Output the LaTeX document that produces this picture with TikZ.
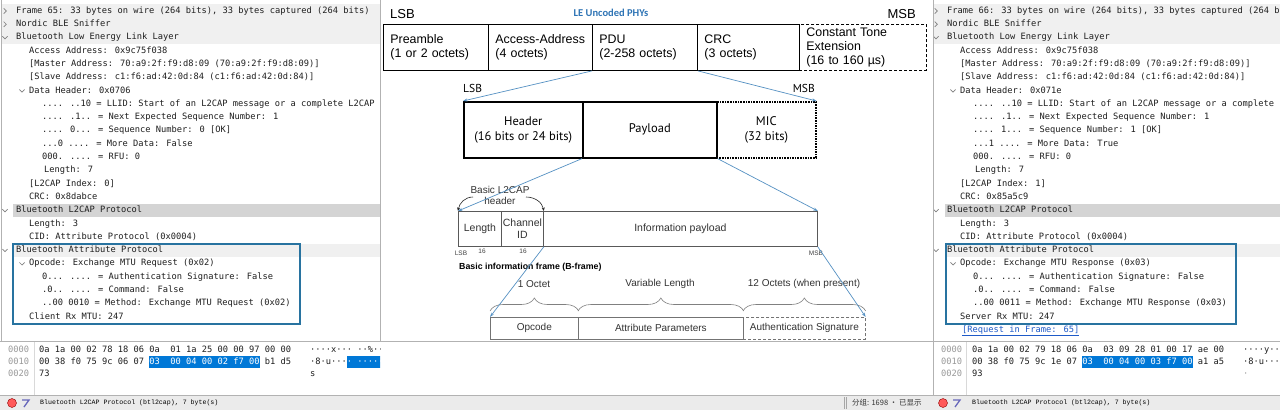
\documentclass[tikz,border=0pt]{standalone}
\usepackage{fontspec}
\usetikzlibrary{positioning,arrows.meta,decorations.pathreplacing}

\newfontfamily\monof{DejaVu Sans Mono}
\newfontfamily\arialf{Liberation Sans}
\newfontfamily\myriadf{PT Sans}
\newfontfamily\calibrif{Carlito}
\newfontfamily\statf{Liberation Mono}
\newfontfamily\cjkf{Noto Sans CJK SC}

\definecolor{selblue}{RGB}{0,120,215}
\definecolor{frameblue}{RGB}{40,115,160}
\definecolor{linkblue}{RGB}{85,145,195}
\definecolor{phyblue}{RGB}{46,116,181}
\definecolor{hlink}{RGB}{30,90,200}

\tikzset{
  tree/.style={anchor=west, inner sep=0pt, text height=6.4pt, text depth=1.9pt, font=\monof\fontsize{8.72}{10}\selectfont, text=black!88},
  offs/.style={tree, text=black!40},
  sel/.style={anchor=west, fill=selblue, inner sep=0pt, minimum height=11.5pt},
  panelbg/.style={fill=black!6},
  rowsel/.style={fill=black!17},
  attframe/.style={draw=frameblue, line width=1.1pt},
  chev/.style={draw=black!50, line width=0.7pt},
  collapsed/.pic={\draw[chev] (-1.3,-2.6) -- (1.3,0) -- (-1.3,2.6);},
  expanded/.pic={\draw[chev] (-2.6,-1.3) -- (0,1.3) -- (2.6,-1.3);},
  lsbtop/.style={anchor=west, inner sep=0pt, font=\arialf\fontsize{13}{15}\selectfont},
  topbox/.style={draw, line width=0.9pt, anchor=north west, minimum height=46pt, inner xsep=7pt, inner ysep=0pt, align=left, font=\arialf\fontsize{12.4}{14}\selectfont},
  lsbmid/.style={anchor=west, inner sep=0pt, font=\myriadf\fontsize{11.5}{13}\selectfont},
  midbox/.style={draw, line width=1.6pt, anchor=north west, minimum height=56pt, inner sep=0pt, align=center, font=\myriadf\fontsize{12.5}{15}\selectfont},
  l2cap/.style={draw=black!65, line width=0.8pt, anchor=north west, minimum height=35pt, inner sep=0pt, align=center, text=black!80, font=\arialf\fontsize{10.5}{11.5}\selectfont},
  tinylbl/.style={inner sep=0pt, text=black!75, font=\arialf\fontsize{6.5}{7}\selectfont},
  l2note/.style={inner sep=0pt, align=center, text=black!80, font=\arialf\fontsize{10}{11}\selectfont},
  bframe/.style={anchor=west, inner sep=0pt, font=\arialf\bfseries\fontsize{8.8}{10}\selectfont},
  attbox/.style={draw=black!55, line width=0.7pt, anchor=north west, minimum height=22pt, inner sep=0pt, text=black!80, font=\arialf\fontsize{10}{11}\selectfont},
  attnote/.style={inner sep=0pt, text=black!80, font=\arialf\fontsize{10}{11}\selectfont},
  brc/.style={draw=black!50, line width=0.6pt, decorate, decoration={brace, amplitude=13pt}},
  blueln/.style={draw=linkblue, line width=0.7pt, -{Stealth[length=4.5pt, width=3pt]}},
  hook/.style={draw=black!85, line width=0.6pt, -{Stealth[length=3.5pt, width=3pt]}},
  stat/.style={anchor=west, inner sep=0pt, font=\statf\fontsize{6.6}{8}\selectfont},
  rec/.style={circle, fill=red!65, draw=red!55!black, line width=0.4pt, minimum size=9pt, inner sep=0pt},
}

\begin{document}
\begin{tikzpicture}[x=1pt, y=-1pt]
\useasboundingbox (0,0) rectangle (1280,410);
\fill[white] (0,0) rectangle (1280,410);

\begin{scope}
\clip (0,0) rectangle (380,395);
\fill[panelbg] (2,4.3) rectangle (380,44.2);
\fill[rowsel] (13,203.9) rectangle (380,217.1);
\fill[panelbg] (13,243.8) rectangle (380,257);

\pic at (5,11) {collapsed};
\node[tree] (l0) at (16,11) {Frame 65: 33 bytes on wire (264 bits), 33 bytes captured (264 bits)};
\pic at (5,24.3) {collapsed};
\node[tree] (l1) at (16,24.3) {Nordic BLE Sniffer};
\pic at (5,37.6) {expanded};
\node[tree] (l2) at (16,37.6) {Bluetooth Low Energy Link Layer};
\node[tree] (l3) at (29,50.9) {Access Address: 0x9c75f038};
\node[tree] (l4) at (29,64.2) {[Master Address: 70:a9:2f:f9:d8:09 (70:a9:2f:f9:d8:09)]};
\node[tree] (l5) at (29,77.5) {[Slave Address: c1:f6:ad:42:0d:84 (c1:f6:ad:42:0d:84)]};
\pic at (22,90.8) {expanded};
\node[tree] (l6) at (29,90.8) {Data Header: 0x0706};
\node[tree] (l7) at (42,104.1) {.... ..10 = LLID: Start of an L2CAP message or a complete L2CAP message or no fragmentation};
\node[tree] (l8) at (42,117.4) {.... .1.. = Next Expected Sequence Number: 1};
\node[tree] (l9) at (42,130.7) {.... 0... = Sequence Number: 0 [OK]};
\node[tree] (l10) at (42,144) {...0 .... = More Data: False};
\node[tree] (l11) at (42,157.3) {000. .... = RFU: 0};
\node[tree] (l12) at (44,170.6) {Length: 7};
\node[tree] (l13) at (29,183.9) {[L2CAP Index: 0]};
\node[tree] (l14) at (29,197.2) {CRC: 0x8dabce};
\pic at (5,210.5) {expanded};
\node[tree] (l15) at (16,210.5) {Bluetooth L2CAP Protocol};
\node[tree] (l16) at (29,223.8) {Length: 3};
\node[tree] (l17) at (29,237.1) {CID: Attribute Protocol (0x0004)};
\pic at (5,250.4) {expanded};
\node[tree] (l18) at (16,250.4) {Bluetooth Attribute Protocol};
\pic at (22,263.7) {expanded};
\node[tree] (l19) at (29,263.7) {Opcode: Exchange MTU Request (0x02)};
\node[tree] (l20) at (42,277) {0... .... = Authentication Signature: False};
\node[tree] (l21) at (42,290.3) {.0.. .... = Command: False};
\node[tree] (l22) at (42,303.6) {..00 0010 = Method: Exchange MTU Request (0x02)};
\node[tree] (l23) at (29,316.9) {Client Rx MTU: 247};
\draw[attframe] (13,244) rectangle (300,324);

\node[sel, minimum width=111.5pt] (lsel) at (148.5,362) {};
\node[sel, minimum width=42pt] (lasel) at (346.5,362) {};
\node[offs] (lo0) at (8,350) {0000};
\node[offs] (lo1) at (8,362) {0010};
\node[offs] (lo2) at (8,374) {0020};
\node[tree] (lx0) at (39,350) {0a 1a 00 02 78 18 06 0a\ \ 01 1a 25 00 00 97 00 00};
\node[tree] (lx1) at (39,362) {00 38 f0 75 9c 06 07 \textcolor{white}{03\ \ 00 04 00 02 f7 00} b1 d5};
\node[tree] (lx2) at (39,374) {73};
\node[tree] (la0) at (310,350) {····x···\ ··\%·····};
\node[tree] (la1) at (310,362) {·8·u···\textcolor{white}{·\ ······}··};
\node[tree] (la2) at (310,374) {s};
\end{scope}

\begin{scope}
\clip (933,0) rectangle (1280,395);
\fill[panelbg] (934,4.3) rectangle (1280,44.2);
\fill[rowsel] (945,203.9) rectangle (1280,217.1);
\fill[panelbg] (945,243.8) rectangle (1280,257);

\pic at (936,11) {collapsed};
\node[tree] (r0) at (947,11) {Frame 66: 33 bytes on wire (264 bits), 33 bytes captured (264 bits)};
\pic at (936,24.3) {collapsed};
\node[tree] (r1) at (947,24.3) {Nordic BLE Sniffer};
\pic at (936,37.6) {expanded};
\node[tree] (r2) at (947,37.6) {Bluetooth Low Energy Link Layer};
\node[tree] (r3) at (960,50.9) {Access Address: 0x9c75f038};
\node[tree] (r4) at (960,64.2) {[Master Address: 70:a9:2f:f9:d8:09 (70:a9:2f:f9:d8:09)]};
\node[tree] (r5) at (960,77.5) {[Slave Address: c1:f6:ad:42:0d:84 (c1:f6:ad:42:0d:84)]};
\pic at (953,90.8) {expanded};
\node[tree] (r6) at (960,90.8) {Data Header: 0x071e};
\node[tree] (r7) at (973,104.1) {.... ..10 = LLID: Start of an L2CAP message or a complete L2CAP message or no fragmentation};
\node[tree] (r8) at (973,117.4) {.... .1.. = Next Expected Sequence Number: 1};
\node[tree] (r9) at (973,130.7) {.... 1... = Sequence Number: 1 [OK]};
\node[tree] (r10) at (973,144) {...1 .... = More Data: True};
\node[tree] (r11) at (973,157.3) {000. .... = RFU: 0};
\node[tree] (r12) at (975,170.6) {Length: 7};
\node[tree] (r13) at (960,183.9) {[L2CAP Index: 1]};
\node[tree] (r14) at (960,197.2) {CRC: 0x85a5c9};
\pic at (936,210.5) {expanded};
\node[tree] (r15) at (947,210.5) {Bluetooth L2CAP Protocol};
\node[tree] (r16) at (960,223.8) {Length: 3};
\node[tree] (r17) at (960,237.1) {CID: Attribute Protocol (0x0004)};
\pic at (936,250.4) {expanded};
\node[tree] (r18) at (947,250.4) {Bluetooth Attribute Protocol};
\pic at (953,263.7) {expanded};
\node[tree] (r19) at (960,263.7) {Opcode: Exchange MTU Response (0x03)};
\node[tree] (r20) at (973,277) {0... .... = Authentication Signature: False};
\node[tree] (r21) at (973,290.3) {.0.. .... = Command: False};
\node[tree] (r22) at (973,303.6) {..00 0011 = Method: Exchange MTU Response (0x03)};
\node[tree] (r23) at (960,316.9) {Server Rx MTU: 247};
\node[tree, text=hlink] (r24) at (962,330.2) {\underline{[Request in Frame: 65]}};
\draw[attframe] (946,244) rectangle (1236,324);

\node[sel, minimum width=111.5pt] (rsel) at (1081.5,362) {};
\node[sel, minimum width=42pt] (rasel) at (1279.5,362) {};
\node[offs] (ro0) at (941,350) {0000};
\node[offs] (ro1) at (941,362) {0010};
\node[offs] (ro2) at (941,374) {0020};
\node[tree] (rx0) at (972,350) {0a 1a 00 02 79 18 06 0a\ \ 03 09 28 01 00 17 ae 00};
\node[tree] (rx1) at (972,362) {00 38 f0 75 9c 1e 07 \textcolor{white}{03\ \ 00 04 00 03 f7 00} a1 a5};
\node[tree] (rx2) at (972,374) {93};
\node[tree] (ra0) at (1243,350) {····y···\ ··(·····};
\node[tree] (ra1) at (1243,362) {·8·u···\textcolor{white}{·\ ······}··};
\node[tree, text=black!40] (ra2) at (1243,374) {·};
\end{scope}

\draw[black!30] (1.5,0) -- (1.5,341);
\draw[black!30] (380,0) -- (380,341);
\draw[black!30] (933,0) -- (933,395);
\draw[black!30] (0,341) -- (1280,341);
\draw[black!15] (34,342) -- (34,395);
\draw[black!15] (966,342) -- (966,395);

\fill[black!8] (0,395) rectangle (1280,410);
\draw[black!30] (0,395) -- (1280,395);
\node[rec] (lrec) at (12,403) {};
\draw[line width=1.3pt, black!45!blue!60] (22,400) -- (29,400) -- (24,407);
\node[stat] (lstat) at (40,403) {Bluetooth L2CAP Protocol (btl2cap), 7 byte(s)};
\draw[black!35] (844,397) -- (844,409);
\draw[black!35] (846,397) -- (846,409);
\node[anchor=west, inner sep=0pt, font=\cjkf\fontsize{7.5}{9}\selectfont, text=black!80] (pkts) at (852,403) {分组: 1698 · 已显示};
\node[rec] (rrec) at (943,403) {};
\draw[line width=1.3pt, black!45!blue!60] (953,400) -- (960,400) -- (955,407);
\node[stat] (rstat) at (972,403) {Bluetooth L2CAP Protocol (btl2cap), 7 byte(s)};

\node[lsbtop] (lsb1) at (390,14) {LSB};
\node[inner sep=0pt, text=phyblue, font=\calibrif\bfseries\fontsize{10.5}{12}\selectfont] (phy) at (611,13) {LE Uncoded PHYs};
\node[lsbtop, anchor=east] (msb1) at (916,14) {MSB};
\node[topbox, text width=91pt] (pre) at (383,24) {Preamble\\(1 or 2 octets)};
\node[topbox, text width=90pt] (acc) at (488,24) {Access-Address\\(4 octets)};
\node[topbox, text width=91pt] (pdu) at (592,24) {PDU\\(2-258 octets)};
\node[topbox, text width=88pt] (crc) at (697,24) {CRC\\(3 octets)};
\node[topbox, text width=113pt, densely dashed] (cte) at (799,24) {Constant Tone\\Extension\\(16 to 160 µs)};

\node[lsbmid] (lsb2) at (463,88) {LSB};
\node[lsbmid, anchor=east] (msb2) at (815,88) {MSB};
\node[midbox, minimum width=119pt] (hdr) at (463,101) {Header\\(16 bits or 24 bits)};
\node[midbox, minimum width=134pt] (pay) at (582,101) {Payload};
\node[midbox, minimum width=99pt, densely dotted] (mic) at (716,101) {MIC\\(32 bits)};
\draw[blueln] (pdu.south west) -- (hdr.north west);
\draw[blueln] (pdu.south east) -- (mic.north east);

\node[l2note] (bhdr) at (500,195) {Basic L2CAP\\header};
\node[l2cap, minimum width=43pt] (len) at (458,211) {Length};
\node[l2cap, minimum width=42pt] (cid) at (501,211) {Channel\\ID};
\node[l2cap, minimum width=274pt] (info) at (543,211) {Information payload};
\coordinate (hka) at (473,197);
\coordinate (hkb) at (526,197);
\draw[hook] (hka) to[out=180, in=80] (len.north west);
\draw[hook] (hkb) to[out=0, in=100] (cid.north east);
\node[tinylbl] (lsb3) at (461,253) {LSB};
\node[tinylbl] (n16a) at (482,251) {16};
\node[tinylbl] (n16b) at (523,251) {16};
\node[tinylbl] (msb3) at (816,253) {MSB};
\node[bframe] (bfr) at (459,267) {Basic information frame (B-frame)};
\draw[blueln] (pay.south west) -- (len.north west);
\draw[blueln] (pay.south east) -- (info.north east);

\node[attnote] (oct1) at (534,284) {1 Octet};
\node[attnote] (varl) at (660,284) {Variable Length};
\node[attnote] (oct12) at (804,284) {12 Octets (when present)};
\node[attbox, minimum width=88pt] (op) at (490,317) {Opcode};
\node[attbox, minimum width=165pt] (apar) at (578,317) {Attribute Parameters};
\node[attbox, minimum width=122pt, densely dashed] (asig) at (743,317) {Authentication Signature};
\draw[brc] ([yshift=6pt]op.north west) -- ([yshift=6pt]op.north east);
\draw[brc] ([yshift=6pt]apar.north west) -- ([yshift=6pt]apar.north east);
\draw[brc] ([yshift=6pt]asig.north west) -- ([yshift=6pt]asig.north east);
\draw[blueln] (cid.south east) -- (op.north west);
\draw[blueln] (info.south east) -- (asig.north east);
\end{tikzpicture}
\end{document}
